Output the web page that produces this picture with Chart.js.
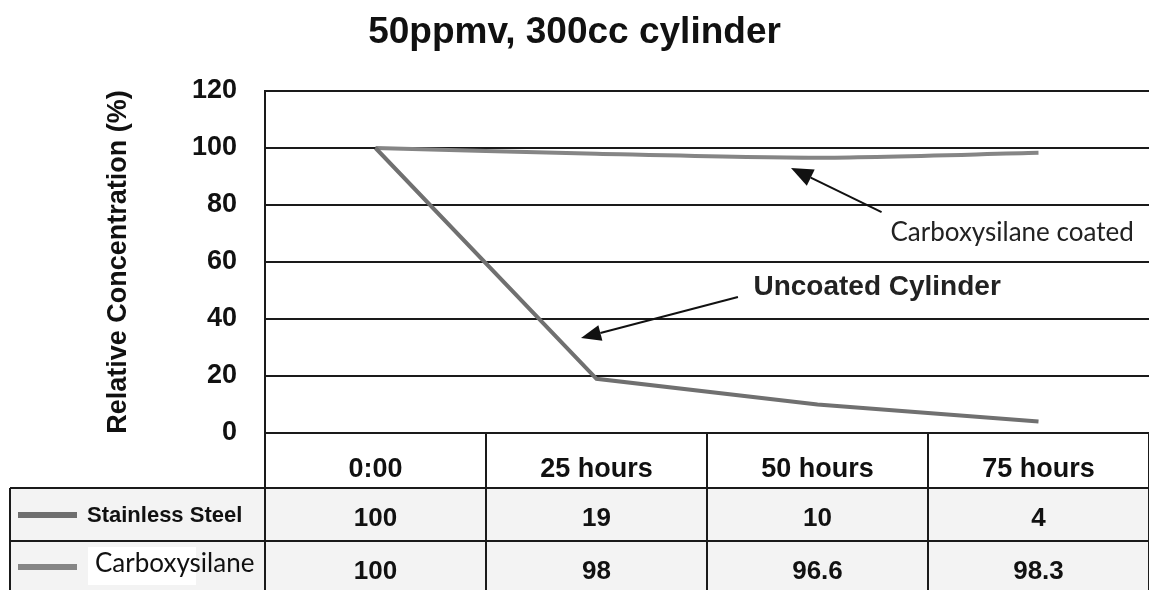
<!DOCTYPE html>
<html>
<head>
<meta charset="utf-8">
<script src="https://cdn.jsdelivr.net/npm/chart.js@4/dist/chart.umd.min.js"></script>
<style>
  body { margin: 0; background: #fff; }
</style>
</head>
<body>
<canvas id="concChart" width="1149" height="590"></canvas>
<script>
// =========================
// DATA
// =========================

const timeLabels = ['0:00', '25 hours', '50 hours', '75 hours'];

const stainlessSteel = [100, 19, 10, 4];

const carboxysilane = [100, 98, 96.6, 98.3];

const seriesNames = ['Stainless Steel', 'Carboxysilane'];

const tableValues = [
  ['100', '19', '10', '4'],
  ['100', '98', '96.6', '98.3']
];

// =========================
// TABLE + ARROWS PLUGIN
// =========================

function arrow(ctx, x1, y1, x2, y2, headLen, headW) {
  const ang = Math.atan2(y2 - y1, x2 - x1);
  const bx = x2 - headLen * Math.cos(ang);
  const by = y2 - headLen * Math.sin(ang);
  ctx.beginPath();
  ctx.moveTo(x1, y1);
  ctx.lineTo(bx, by);
  ctx.strokeStyle = '#111';
  ctx.lineWidth = 2;
  ctx.stroke();
  ctx.beginPath();
  ctx.moveTo(x2, y2);
  ctx.lineTo(bx + headW / 2 * Math.sin(ang), by - headW / 2 * Math.cos(ang));
  ctx.lineTo(bx - headW / 2 * Math.sin(ang), by + headW / 2 * Math.cos(ang));
  ctx.closePath();
  ctx.fillStyle = '#111';
  ctx.fill();
}

const tablePlugin = {
  id: 'tablePlugin',
  afterDatasetsDraw(chart) {
    const ctx = chart.ctx;
    const x = chart.scales.x;
    const y = chart.scales.y;

    // annotations anchored on the scales
    arrow(ctx, x.getPixelForValue(2.29), y.getPixelForValue(77.5),
      x.getPixelForValue(1.88), y.getPixelForValue(93), 22, 18);
    arrow(ctx, x.getPixelForValue(1.64), y.getPixelForValue(47.7),
      x.getPixelForValue(0.93), y.getPixelForValue(33.3), 20, 16);

    ctx.save();
    ctx.fillStyle = '#222';
    ctx.textAlign = 'left';
    ctx.textBaseline = 'middle';
    ctx.font = '26px Lato';
    ctx.fillText('Carboxysilane coated',
      x.getPixelForValue(2.33), y.getPixelForValue(70.2));
    ctx.font = 'bold 28px "Liberation Sans"';
    ctx.fillText('Uncoated Cylinder',
      x.getPixelForValue(1.71), y.getPixelForValue(51));
    ctx.restore();
  },
  afterDraw(chart) {
    const ctx = chart.ctx;
    const area = chart.chartArea;
    const x = chart.scales.x;
    const half = (x.getPixelForValue(1) - x.getPixelForValue(0)) / 2;

    const headTop = area.bottom;
    const row1Top = headTop + 55;
    const row2Top = row1Top + 53;
    const bottom = chart.height;
    const tableLeft = 10;

    ctx.save();

    // row backgrounds
    ctx.fillStyle = '#f3f3f3';
    ctx.fillRect(tableLeft, row1Top, area.right - tableLeft, bottom - row1Top);

    // lines
    ctx.strokeStyle = '#1a1a1a';
    ctx.lineWidth = 2;
    ctx.beginPath();
    [row1Top, row2Top].forEach(ry => {
      ctx.moveTo(tableLeft, ry);
      ctx.lineTo(area.right, ry);
    });
    ctx.moveTo(tableLeft, row1Top);
    ctx.lineTo(tableLeft, bottom);
    ctx.moveTo(area.left, headTop);
    ctx.lineTo(area.left, bottom);
    for (let i = 0; i < timeLabels.length; i++) {
      const edge = x.getPixelForValue(i) + half;
      ctx.moveTo(edge, headTop);
      ctx.lineTo(edge, bottom);
    }
    ctx.stroke();

    // header labels
    ctx.fillStyle = '#111';
    ctx.textAlign = 'center';
    ctx.textBaseline = 'middle';
    ctx.font = 'bold 27px "Liberation Sans"';
    timeLabels.forEach((lab, i) => {
      ctx.fillText(lab, x.getPixelForValue(i), headTop + 37);
    });

    // values
    ctx.font = 'bold 26px "Liberation Sans"';
    tableValues.forEach((row, r) => {
      const cy = r === 0 ? row1Top + 31 : row2Top + 31;
      row.forEach((v, i) => {
        ctx.fillText(v, x.getPixelForValue(i), cy);
      });
    });

    // row headers with legend swatches
    const swatchColors = ['#6e6e6e', '#858585'];
    [row1Top + 27, row2Top + 26].forEach((cy, r) => {
      ctx.strokeStyle = swatchColors[r];
      ctx.lineWidth = 6;
      ctx.beginPath();
      ctx.moveTo(18, cy);
      ctx.lineTo(77, cy);
      ctx.stroke();
    });

    ctx.textAlign = 'left';
    ctx.fillStyle = '#111';
    ctx.font = 'bold 22px "Liberation Sans"';
    ctx.fillText(seriesNames[0], 87, row1Top + 28);

    ctx.fillStyle = '#fff';
    ctx.fillRect(88, row2Top + 6, 108, 38);
    ctx.fillStyle = '#111';
    ctx.font = '26px Lato';
    ctx.fillText(seriesNames[1], 95, row2Top + 23);

    ctx.restore();
  }
};

// =========================
// CHART
// =========================

const ctx = document.getElementById('concChart');

new Chart(ctx, {

  type: 'line',

  data: {

    labels: timeLabels,

    datasets: [
      {
        label: seriesNames[0],
        data: stainlessSteel,
        borderColor: '#707070',
        borderWidth: 4,
        pointRadius: 0,
        tension: 0
      },
      {
        label: seriesNames[1],
        data: carboxysilane,
        borderColor: '#858585',
        borderWidth: 4,
        pointRadius: 0,
        tension: 0.25
      }
    ]
  },

  options: {
    responsive: false,
    animation: false,
    layout: {
      padding: { left: 0, right: 0, top: 0, bottom: 157 }
    },
    plugins: {
      legend: { display: false },
      tooltip: { enabled: false },
      title: {
        display: true,
        text: '50ppmv, 300cc cylinder',
        color: '#111',
        font: { family: '"Liberation Sans"', size: 37, weight: 'bold' },
        padding: { top: 11, bottom: 35.6 }
      }
    },
    scales: {
      x: {
        display: false,
        offset: true
      },
      y: {
        min: 0,
        max: 120,
        afterFit(scale) {
          scale.width = 265;
        },
        ticks: {
          stepSize: 20,
          color: '#111',
          padding: 28,
          font: { family: '"Liberation Sans"', size: 27, weight: 'bold' }
        },
        grid: {
          color: '#1a1a1a',
          lineWidth: 2,
          drawTicks: false
        },
        border: {
          display: true,
          color: '#1a1a1a',
          width: 2
        },
        title: {
          display: true,
          text: 'Relative Concentration (%)',
          color: '#111',
          font: { family: '"Liberation Sans"', size: 27, weight: 'bold' },
          padding: { top: 102, bottom: 0 }
        }
      }
    }
  },

  plugins: [tablePlugin]
});
</script>
</body>
</html>
